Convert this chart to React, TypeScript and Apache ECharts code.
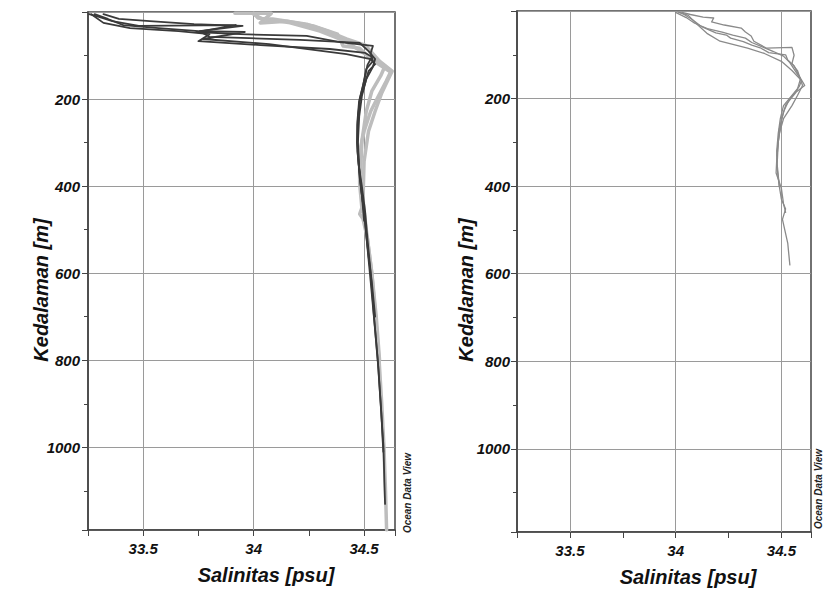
import React, { useEffect, useRef } from 'react';
import * as echarts from 'echarts';

const FONT = '"Liberation Sans", Arial, sans-serif';

// Tick labels
const salinityTicks = [33.5, 34, 34.5];
const depthTicks = [200, 400, 600, 800, 1000];

// Left panel - dark profiles
const leftDark1Sal = [33.255, 33.30, 33.36, 33.48, 33.92, 33.74, 33.94, 34.24, 34.39, 34.54, 34.53, 34.54, 34.51, 34.495, 34.477, 34.47, 34.468, 34.475, 34.49, 34.505, 34.515, 34.53, 34.545, 34.562, 34.575, 34.588, 34.592, 34.595];
const leftDark1Depth = [5, 11, 21, 32, 30, 46, 51, 55, 69, 78, 94, 113, 131, 170, 207, 250, 300, 350, 400, 460, 520, 600, 700, 800, 900, 1000, 1080, 1130];

const leftDark2Sal = [33.28, 33.34, 33.41, 33.57, 33.75, 33.96, 33.77, 34.07, 34.42, 34.53, 34.55, 34.52, 34.505, 34.48, 34.472, 34.47, 34.48, 34.50, 34.52, 34.535, 34.55];
const leftDark2Depth = [5, 16, 30, 37, 44, 46, 62, 74, 97, 108, 120, 136, 163, 205, 250, 300, 380, 460, 560, 620, 700];

const leftDark3Sal = [33.32, 33.39, 33.53, 33.73, 33.95, 33.755, 33.80, 33.98, 34.21, 34.48, 34.52, 34.55, 34.54, 34.51, 34.49, 34.478, 34.472, 34.478, 34.49, 34.50];
const leftDark3Depth = [5, 16, 21, 28, 32, 44, 57, 60, 64, 71, 90, 108, 126, 154, 193, 240, 300, 360, 420, 480];

const leftDark4Sal = [33.265, 33.32, 33.44, 33.66, 33.80, 33.75, 34.03, 34.345, 34.505, 34.535, 34.515, 34.50, 34.48, 34.47, 34.47, 34.485, 34.50, 34.515, 34.53, 34.548, 34.565, 34.578, 34.587];
const leftDark4Depth = [5, 25, 37, 44, 51, 67, 76, 85, 94, 103, 122, 159, 200, 260, 320, 400, 460, 540, 620, 720, 820, 920, 1010];

// Left panel - light profiles
const leftLight1Sal = [33.915, 34.08, 34.03, 34.15, 34.27, 34.38, 34.405, 34.48, 34.53, 34.62, 34.60, 34.565, 34.53, 34.50, 34.48, 34.48, 34.49, 34.48, 34.495, 34.515, 34.535, 34.552, 34.568, 34.58, 34.59, 34.597, 34.602];
const leftLight1Depth = [3, 3, 25, 21, 32, 51, 78, 83, 108, 138, 159, 193, 228, 274, 320, 395, 450, 464, 475, 520, 600, 700, 800, 900, 1000, 1100, 1190];

const leftLight2Sal = [34.00, 34.04, 34.086, 34.24, 34.345, 34.42, 34.505, 34.57, 34.627, 34.61, 34.58, 34.55, 34.52, 34.50, 34.495, 34.51, 34.535, 34.555, 34.57];
const leftLight2Depth = [5, 16, 16, 28, 46, 62, 76, 113, 136, 154, 186, 228, 274, 343, 434, 500, 600, 700, 800];

const leftLight3Sal = [34.00, 34.02, 34.165, 34.30, 34.415, 34.52, 34.595, 34.575, 34.535, 34.51, 34.49, 34.485, 34.495, 34.50];
const leftLight3Depth = [3, 14, 25, 44, 67, 101, 124, 147, 182, 228, 297, 360, 420, 470];

// Right panel profiles
const right1Sal = [34.02, 34.06, 34.10, 34.148, 34.21, 34.34, 34.42, 34.50, 34.55, 34.595, 34.585, 34.55, 34.51, 34.495, 34.485, 34.478, 34.48, 34.49, 34.50, 34.52, 34.505, 34.53, 34.54];
const right1Depth = [3, 10, 30, 51, 69, 85, 97, 115, 136, 159, 172, 193, 216, 246, 280, 320, 360, 400, 430, 452, 476, 530, 580];

const right2Sal = [34.03, 34.07, 34.13, 34.18, 34.17, 34.23, 34.31, 34.33, 34.357, 34.37, 34.43, 34.55, 34.56, 34.55, 34.576, 34.60, 34.576, 34.55, 34.51, 34.49, 34.48, 34.475, 34.50, 34.51, 34.52];
const right2Depth = [3, 8, 14, 16, 25, 32, 39, 48, 57, 69, 85, 83, 101, 120, 136, 170, 193, 216, 246, 280, 320, 370, 405, 440, 460];

const right3Sal = [34.01, 34.04, 34.08, 34.12, 34.19, 34.24, 34.26, 34.32, 34.36, 34.40, 34.44, 34.52, 34.53, 34.56, 34.58, 34.61, 34.57, 34.52, 34.50, 34.485, 34.48, 34.49];
const right3Depth = [2, 8, 20, 35, 50, 55, 62, 70, 78, 84, 95, 100, 112, 125, 145, 170, 185, 215, 250, 300, 350, 400];

const right4Sal = [34.00, 34.05, 34.09, 34.15, 34.22, 34.27, 34.33, 34.36, 34.41, 34.46, 34.51, 34.54, 34.57, 34.59, 34.575, 34.54, 34.51, 34.49, 34.48];
const right4Depth = [3, 15, 28, 40, 48, 55, 62, 72, 82, 92, 103, 118, 140, 155, 180, 200, 230, 270, 330];

const pairs = (s: number[], d: number[]) => s.map((v, i) => [v, d[i]]);

const AXIS_COLOR = '#444';
const labelStyle = { fontSize: 15, fontWeight: 'bold' as const, fontStyle: 'italic' as const, fontFamily: FONT, color: '#111' };

function mkX(gridIndex: number) {
  return {
    type: 'value', gridIndex, min: 33.25, max: 34.64, interval: 0.25,
    axisLine: { show: true, onZero: false, lineStyle: { color: AXIS_COLOR, width: 1.5 } },
    axisTick: { show: true, length: 6, lineStyle: { color: AXIS_COLOR } },
    axisLabel: {
      ...labelStyle, margin: 11, showMinLabel: true, showMaxLabel: true,
      formatter: (v: number) => {
        const t = salinityTicks.find((x) => Math.abs(x - v) < 1e-6);
        return t === undefined ? '' : String(t);
      },
    },
    splitLine: { show: false },
  };
}

function mkY(gridIndex: number, margin: number) {
  return {
    type: 'value', gridIndex, inverse: true, min: 0, max: 1190, interval: 200,
    axisLine: { show: true, onZero: false, lineStyle: { color: AXIS_COLOR, width: 1.5 } },
    axisTick: { show: true, length: 6, lineStyle: { color: AXIS_COLOR } },
    minorTick: { show: true, splitNumber: 2, length: 4, lineStyle: { color: AXIS_COLOR } },
    axisLabel: {
      ...labelStyle, margin,
      formatter: (v: number) => {
        const t = depthTicks.find((x) => Math.abs(x - v) < 1e-6);
        return t === undefined ? '' : String(t);
      },
    },
    splitLine: { show: true, lineStyle: { color: '#9a9a9a', width: 1 } },
  };
}

function gridLineSeries(idx: number) {
  return {
    type: 'line', xAxisIndex: idx, yAxisIndex: idx, data: [], silent: true, z: 1,
    markLine: {
      silent: true, symbol: 'none', z: 1, animation: false,
      label: { show: false },
      lineStyle: { color: '#9a9a9a', width: 1, type: 'solid' },
      data: salinityTicks.map((t) => ({ xAxis: t })),
    },
  };
}

function profile(idx: number, s: number[], d: number[], color: string, width: number, z: number) {
  return {
    type: 'line', xAxisIndex: idx, yAxisIndex: idx, data: pairs(s, d),
    showSymbol: false, symbol: 'none', z, silent: true,
    lineStyle: { color, width, join: 'round', cap: 'round' },
  };
}

const LIGHT = '#bdbdbd';
const DARK = '#3a3a3a';
const MID = '#8a8a8a';

export default function App() {
  const ref = useRef<HTMLDivElement>(null);
  useEffect(() => {
    document.body.style.margin = '0';
    const chart = echarts.init(ref.current!, undefined, { renderer: 'svg' });
    const titleStyle = { fontSize: 20, fontWeight: 'bold', fontStyle: 'italic', fontFamily: FONT, fill: '#111', align: 'center', verticalAlign: 'middle' };
    const odvStyle = { fontSize: 10, fontWeight: 'bold', fontStyle: 'italic', fontFamily: FONT, fill: '#222', align: 'center', verticalAlign: 'middle' };
    const option: any = {
      animation: false,
      backgroundColor: '#fff',
      grid: [
        { left: 88, top: 12, width: 307, height: 518, show: true, borderColor: AXIS_COLOR, borderWidth: 1.5, backgroundColor: 'transparent' },
        { left: 517, top: 11, width: 294, height: 521, show: true, borderColor: AXIS_COLOR, borderWidth: 1.5, backgroundColor: 'transparent' },
      ],
      xAxis: [mkX(0), mkX(1)],
      yAxis: [mkY(0, 8), mkY(1, 7)],
      series: [
        gridLineSeries(0),
        gridLineSeries(1),
        profile(0, leftLight1Sal, leftLight1Depth, LIGHT, 3.5, 2),
        profile(0, leftLight2Sal, leftLight2Depth, LIGHT, 3.5, 2),
        profile(0, leftLight3Sal, leftLight3Depth, LIGHT, 3.5, 2),
        profile(0, leftDark1Sal, leftDark1Depth, DARK, 1.8, 3),
        profile(0, leftDark2Sal, leftDark2Depth, DARK, 1.8, 3),
        profile(0, leftDark3Sal, leftDark3Depth, DARK, 1.8, 3),
        profile(0, leftDark4Sal, leftDark4Depth, DARK, 1.8, 3),
        profile(1, right1Sal, right1Depth, MID, 1.3, 3),
        profile(1, right2Sal, right2Depth, MID, 1.3, 3),
        profile(1, right3Sal, right3Depth, MID, 1.3, 3),
        profile(1, right4Sal, right4Depth, MID, 1.3, 3),
      ],
      graphic: [
        { type: 'text', x: 41, y: 290, rotation: Math.PI / 2, style: { ...titleStyle, text: 'Kedalaman [m]' } },
        { type: 'text', x: 466, y: 290, rotation: Math.PI / 2, style: { ...titleStyle, text: 'Kedalaman [m]' } },
        { type: 'text', x: 266, y: 575, style: { ...titleStyle, text: 'Salinitas [psu]' } },
        { type: 'text', x: 688, y: 577, style: { ...titleStyle, text: 'Salinitas [psu]' } },
        { type: 'text', x: 407, y: 493, rotation: Math.PI / 2, style: { ...odvStyle, text: 'Ocean Data View' } },
        { type: 'text', x: 818, y: 489, rotation: Math.PI / 2, style: { ...odvStyle, text: 'Ocean Data View' } },
      ],
    };
    chart.setOption(option);
    return () => chart.dispose();
  }, []);
  return <div ref={ref} style={{ width: 824, height: 599, background: '#fff' }} />;
}
